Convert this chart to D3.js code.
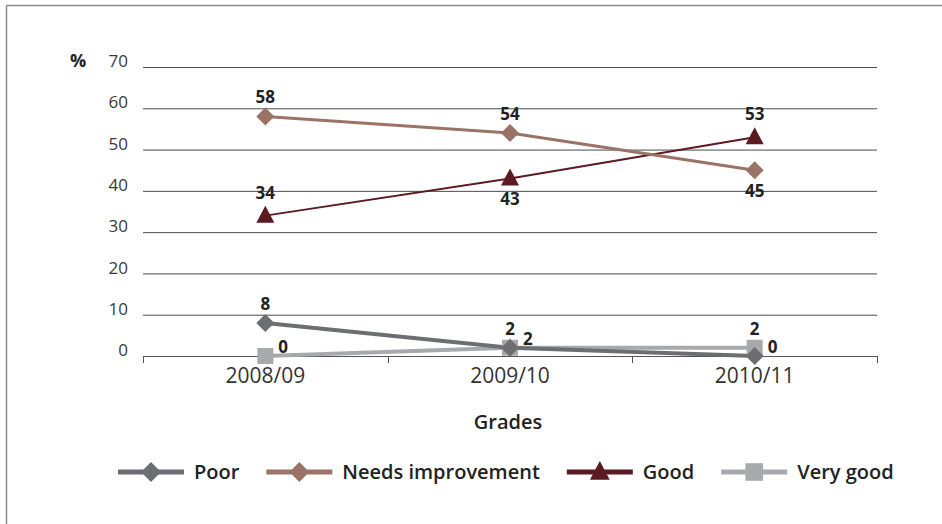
<!DOCTYPE html>
<html>
<head>
<meta charset="utf-8">
<script src="https://cdn.jsdelivr.net/npm/d3@7"></script>
<style>
  html, body { margin: 0; padding: 0; background: #fff; }
  svg { display: block; font-family: "Open Sans", "Noto Sans", sans-serif; }
</style>
</head>
<body>
<svg id="chart" width="942" height="524"></svg>
<script>
// Categories and series values (%)
const years = ["2008/09", "2009/10", "2010/11"];
const poor = [8, 2, 0];
const needsImprovement = [58, 54, 45];
const good = [34, 43, 53];
const veryGood = [0, 2, 2];
const yTicks = [0, 10, 20, 30, 40, 50, 60, 70];

// Where each value label sits relative to its point
const poorLabelPos = ["above", "right", "right"];
const needsLabelPos = ["above", "above", "below"];
const goodLabelPos = ["above", "below", "above"];
const veryGoodLabelPos = ["right", "above", "above"];

const series = [
  { name: "Poor", values: poor, color: "#6d6e71", width: 4, symbol: "diamond", labels: poorLabelPos },
  { name: "Needs improvement", values: needsImprovement, color: "#9a7266", width: 3, symbol: "diamond", labels: needsLabelPos },
  { name: "Good", values: good, color: "#5b1a20", width: 2, symbol: "triangle", labels: goodLabelPos },
  { name: "Very good", values: veryGood, color: "#a7a9ac", width: 4, symbol: "square", labels: veryGoodLabelPos }
];

const svg = d3.select("#chart");

// Frame lines along the top and left edges
svg.append("line").attr("x1", 6.5).attr("x2", 942).attr("y1", 5.5).attr("y2", 5.5)
  .attr("stroke", "#8a8a8a").attr("stroke-width", 1.5);
svg.append("line").attr("x1", 6.5).attr("x2", 6.5).attr("y1", 5.5).attr("y2", 524)
  .attr("stroke", "#8a8a8a").attr("stroke-width", 1.5);

const x = d3.scaleBand().domain(years).range([143, 877]).padding(0);
const y = d3.scaleLinear().domain([0, 70]).range([356, 67]);
const cx = d => x(d) + x.bandwidth() / 2;

// Gridlines and y labels
const yAxis = d3.axisLeft(y).tickValues(yTicks).tickSize(-(877 - 143)).tickPadding(15);
const gy = svg.append("g").attr("transform", "translate(143,0)").call(yAxis);
gy.select(".domain").remove();
gy.selectAll(".tick line").attr("stroke", "#4a4a4a").attr("stroke-width", 1)
  .attr("opacity", d => d === 0 ? 0 : 1);
gy.selectAll(".tick text").attr("fill", "#3a3a3a").attr("font-size", 17)
  .attr("dy", "-0.02em").attr("font-weight", 400).attr("font-family", "Open Sans, sans-serif");

svg.append("text").attr("x", 78).attr("y", 61).attr("dy", "0.35em")
  .attr("text-anchor", "middle").attr("font-size", 18).attr("font-weight", 700)
  .attr("fill", "#222").text("%");

// X axis: baseline, category boundary ticks and labels
const gx = svg.append("g").attr("transform", `translate(0,${y(0)})`)
  .call(d3.axisBottom(x).tickSize(0).tickPadding(9));
gx.select(".domain").remove();
gx.selectAll(".tick text").attr("fill", "#333").attr("font-size", 21).attr("font-weight", 400)
  .attr("font-family", "Open Sans, sans-serif").attr("dy", "0.85em");

gx.append("line").attr("x1", x.range()[0]).attr("x2", x.range()[1]).attr("y1", 0.5).attr("y2", 0.5)
  .attr("stroke", "#555").attr("stroke-width", 1);
const bounds = years.map(d => x(d)).concat([x(years[years.length - 1]) + x.bandwidth()]);
gx.selectAll(".bound").data(bounds).join("line")
  .attr("x1", d => Math.round(d) + 0.5).attr("x2", d => Math.round(d) + 0.5)
  .attr("y1", 0).attr("y2", 7).attr("stroke", "#555").attr("stroke-width", 1);

svg.append("text").attr("x", 508).attr("y", 422).attr("dy", "0.35em")
  .attr("text-anchor", "middle").attr("font-size", 20).attr("font-weight", 600)
  .attr("fill", "#222").text("Grades");

// Marker shapes
function markerPath(symbol, k = 1) {
  if (symbol === "diamond") return `M0,${-9 * k}L${9 * k},0L0,${9 * k}L${-9 * k},0Z`;
  if (symbol === "triangle") return `M0,${-10 * k}L${9 * k},${7 * k}L${-9 * k},${7 * k}Z`;
  return `M${-8 * k},${-8 * k}H${8 * k}V${8 * k}H${-8 * k}Z`;
}

const line = d3.line().x((d, i) => cx(years[i])).y(d => y(d));

// Series drawn so that "Poor" ends up on top
const drawOrder = series.slice().reverse();
const gLines = svg.append("g");
drawOrder.forEach(s => {
  gLines.append("path").datum(s.values).attr("d", line)
    .attr("fill", "none").attr("stroke", s.color).attr("stroke-width", s.width)
    .attr("stroke-linejoin", "round");
});
const gMarks = svg.append("g");
drawOrder.forEach(s => {
  gMarks.selectAll(null).data(s.values).join("path")
    .attr("d", markerPath(s.symbol))
    .attr("transform", (d, i) => `translate(${cx(years[i])},${y(d)})`)
    .attr("fill", s.color);
});

// Value labels
const gLabels = svg.append("g");
series.forEach(s => {
  s.values.forEach((v, i) => {
    const pos = s.labels[i];
    let dx = 0, dy = 0, anchor = "middle";
    if (pos === "above") dy = s.symbol === "triangle" ? -23 : -19;
    else if (pos === "below") dy = 21;
    else { dx = 13; dy = -9; anchor = "start"; }
    gLabels.append("text")
      .attr("x", cx(years[i]) + dx).attr("y", y(v) + dy).attr("dy", "0.35em")
      .attr("text-anchor", anchor).attr("font-size", 17).attr("font-weight", 700)
      .attr("fill", "#222").text(v);
  });
});

// Legend
const legend = svg.append("g").attr("transform", "translate(118,472)");
let lx = 0;
series.forEach(s => {
  const g = legend.append("g").attr("transform", `translate(${lx},0)`);
  g.append("line").attr("x1", 0).attr("x2", 66).attr("y1", 0).attr("y2", 0)
    .attr("stroke", s.color).attr("stroke-width", 5);
  g.append("path").attr("d", markerPath(s.symbol, 1.1)).attr("transform", "translate(33,0)")
    .attr("fill", s.color);
  const t = g.append("text").attr("x", 76).attr("y", 0).attr("dy", "0.35em")
    .attr("font-size", 20).attr("font-weight", 600).attr("fill", "#222").text(s.name);
  lx += 76 + t.node().getComputedTextLength() + 27;
});
</script>
</body>
</html>
